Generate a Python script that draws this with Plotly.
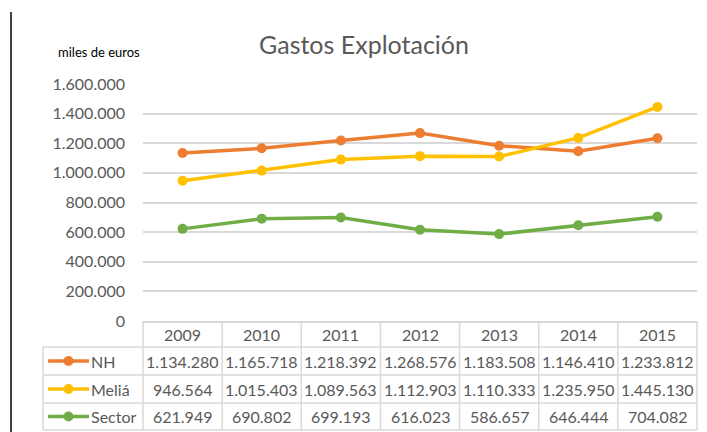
import plotly.graph_objects as go

years = ['2009', '2010', '2011', '2012', '2013', '2014', '2015']
nh = [1134280, 1165718, 1218392, 1268576, 1183508, 1146410, 1233812]
melia = [946564, 1015403, 1089563, 1112903, 1110333, 1235950, 1445130]
sector = [621949, 690802, 699193, 616023, 586657, 646444, 704082]

series = [('NH', nh, '#ED7D31'), ('Meliá', melia, '#FFC000'), ('Sector', sector, '#70AD47')]

W, H = 707, 432
L, R, T, B = 143, 697, 84, 321
FONT = 'Lato'
GRAY = '#595959'
GRID = '#d9d9d9'


def px_x(p):
    return (p - L) / (R - L)


def px_y(p):
    return (B - p) / (B - T)


def fmt(v):
    return f'{v:,}'.replace(',', '.')


fig = go.Figure()
for name, vals, color in series:
    fig.add_trace(go.Scatter(
        x=years, y=vals, name=name, mode='lines+markers',
        line=dict(color=color, width=3.5),
        marker=dict(color=color, size=10),
        cliponaxis=False
    ))

shapes = []
annotations = []

# table grid below the plot
row_edges = [321, 347, 375, 403, 430]
for y in row_edges[1:]:
    shapes.append(dict(type='line', xref='paper', yref='paper',
                       x0=px_x(43), x1=px_x(R), y0=px_y(y), y1=px_y(y),
                       line=dict(color=GRID, width=1.5)))
shapes.append(dict(type='line', xref='paper', yref='paper',
                   x0=px_x(43), x1=px_x(43), y0=px_y(347), y1=px_y(430),
                   line=dict(color=GRID, width=1.5)))
for k in range(len(years) + 1):
    xp = k / len(years)
    shapes.append(dict(type='line', xref='paper', yref='paper',
                       x0=xp, x1=xp, y0=px_y(321), y1=px_y(430),
                       line=dict(color=GRID, width=1.5)))

# left border of the sheet
shapes.append(dict(type='line', xref='paper', yref='paper',
                   x0=px_x(11), x1=px_x(11), y0=px_y(12), y1=px_y(432),
                   line=dict(color='black', width=1.5)))

# header row: years
for i, yr in enumerate(years):
    annotations.append(dict(x=i, y=px_y(334), xref='x', yref='paper',
                            text=yr, showarrow=False, yanchor='middle',
                            font=dict(family=FONT, size=16, color=GRAY)))

for r, (name, vals, color) in enumerate(series):
    yc = (row_edges[r + 1] + row_edges[r + 2]) / 2
    shapes.append(dict(type='line', xref='paper', yref='paper',
                       x0=px_x(48), x1=px_x(89), y0=px_y(yc), y1=px_y(yc),
                       line=dict(color=color, width=3.5)))
    shapes.append(dict(type='circle', xref='paper', yref='paper',
                       x0=px_x(63.5), x1=px_x(73.5), y0=px_y(yc + 5), y1=px_y(yc - 5),
                       fillcolor=color, line=dict(color=color, width=0)))
    annotations.append(dict(x=px_x(89), y=px_y(yc), xref='paper', yref='paper',
                            text=name, showarrow=False, xanchor='left',
                            yanchor='middle',
                            font=dict(family=FONT, size=16, color=GRAY)))
    for i, v in enumerate(vals):
        annotations.append(dict(x=i, y=px_y(yc), xref='x', yref='paper',
                                text=fmt(v), showarrow=False, yanchor='middle',
                                font=dict(family=FONT, size=16, color=GRAY)))

annotations.append(dict(x=px_x(56), y=px_y(52), xref='paper', yref='paper',
                        text='miles de euros', showarrow=False, xanchor='left',
                        yanchor='middle',
                        font=dict(family=FONT, size=13, color='#000000')))

fig.update_layout(
    width=W, height=H,
    margin=dict(l=L, r=W - R, t=T, b=H - B, autoexpand=False),
    plot_bgcolor='white', paper_bgcolor='white',
    separators=',.',
    showlegend=False,
    title=dict(text='Gastos Explotación', x=364 / W,
               xanchor='center', y=1 - 45 / H, yanchor='middle',
               font=dict(family=FONT, size=25, color=GRAY)),
    shapes=shapes,
    annotations=annotations,
    xaxis=dict(range=[-0.5, 6.5], showgrid=False, zeroline=False,
               showline=True, linecolor=GRID, linewidth=1.5,
               ticks='', showticklabels=False, automargin=False),
    yaxis=dict(range=[0, 1600000], dtick=200000, tickformat=',d',
               showgrid=True, gridcolor=GRID, gridwidth=1.5,
               zeroline=False, showline=False, ticks='',
               ticklabelstandoff=17, automargin=False,
               tickfont=dict(family=FONT, size=16, color=GRAY)),
)

fig.write_html('out.html', config={'displayModeBar': False},
               post_script="document.body.style.margin='0';")
